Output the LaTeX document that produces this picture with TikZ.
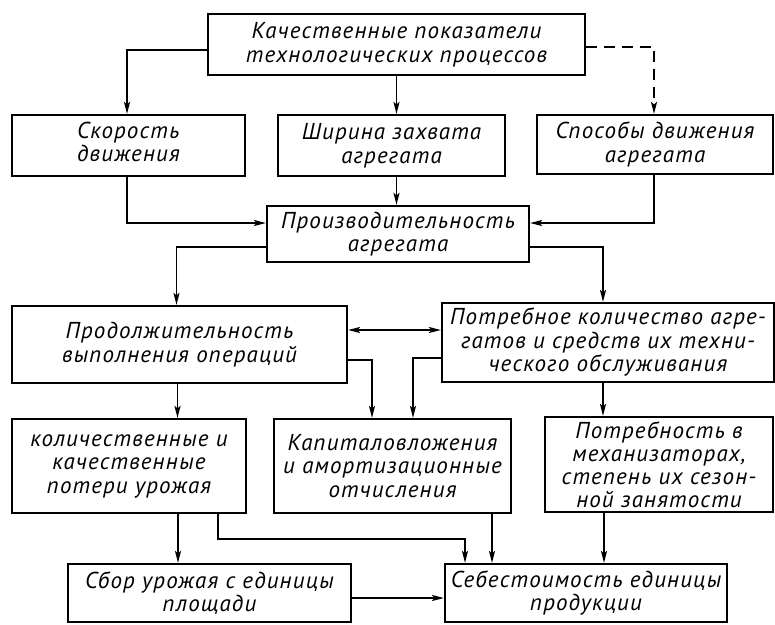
\documentclass[tikz,border=0pt]{standalone}
\usepackage{fontspec}
\newfontfamily\gostfont{PT Sans}[LetterSpace=5]
\usetikzlibrary{arrows.meta,calc}
\tikzset{
  blk/.style={draw, line width=2.2pt, inner sep=0pt, align=center,
    font=\gostfont\fontsize{23}{23.5}\selectfont\itshape},
  arr/.style={line width=1.8pt, -{Stealth[length=12pt,width=6pt,inset=2.5pt]}},
  darr/.style={line width=1.8pt, {Stealth[length=12pt,width=6pt,inset=2.5pt]}-{Stealth[length=12pt,width=6pt,inset=2.5pt]}},
  dsh/.style={arr, dash pattern=on 11pt off 7pt}
}
\begin{document}
\begin{tikzpicture}[x=1pt,y=-1pt]
\useasboundingbox (0,0) rectangle (775,624);
% boxes
\node[blk, minimum width=377pt, minimum height=61pt] (top) at (396.5,44.5) {Качественные показатели\\технологических процессов};
\node[blk, minimum width=233pt, minimum height=61pt] (skor) at (128.5,145.5) {\begin{tabular}{@{}l@{}}Скорость\\движения\end{tabular}};
\node[blk, minimum width=227pt, minimum height=61pt] (shir) at (391.5,145.5) {Ширина захвата\\агрегата};
\node[blk, minimum width=236pt, minimum height=59pt] (spos) at (655,144.5) {Способы движения\\агрегата};
\node[blk, minimum width=262pt, minimum height=56pt] (proizv) at (398,234) {Производительность\\агрегата};
\node[blk, minimum width=335pt, minimum height=77pt] (prod) at (179.5,344.5) {Продолжительность\\выполнения операций};
\node[blk, minimum width=332pt, minimum height=79pt] (potr) at (608,342.5) {Потребное количество агре-\\гатов и средств их техни-\\ческого обслуживания};
\node[blk, minimum width=234pt, minimum height=94pt] (kol) at (129,466) {количественные и\\качественные\\потери урожая};
\node[blk, minimum width=237pt, minimum height=94pt] (kap) at (392.5,466) {Капиталовложения\\и амортизационные\\отчисления};
\node[blk, minimum width=228pt, minimum height=95pt, font=\gostfont\fontsize{23}{23}\selectfont\itshape] (potrm) at (659,464.5) {Потребность в\\механизаторах,\\степень их сезон-\\ной занятости};
\node[blk, minimum width=283pt, minimum height=58pt] (sbor) at (209.5,593) {Сбор урожая с единицы\\площади};
\node[blk, minimum width=282pt, minimum height=58pt] (seb) at (586,593) {Себестоимость единицы\\продукции};
% connectors
\draw[arr] ([yshift=-5.5pt]top.west) -| ([xshift=-1.5pt]skor.north);
\draw[arr] (top.south) -- (top.south |- shir.north);
\draw[dsh] ([yshift=-2.5pt]top.east) -| ([xshift=-1pt]spos.north);
\draw[arr] ([xshift=-1.5pt]skor.south) |- ([yshift=11pt]proizv.west);
\draw[arr] (shir.south -| top.south) -- (top.south |- proizv.north);
\draw[arr] ([xshift=-1pt]spos.south) |- ([yshift=11pt]proizv.east);
\draw[arr] ([yshift=-13pt]proizv.west) -| ([xshift=-3pt]prod.north);
\draw[arr] ([yshift=-13pt]proizv.east) -| ([xshift=-5pt]potr.north);
\draw[darr] ([yshift=14.5pt]prod.east) -- ([yshift=14.5pt]prod.east -| potr.west);
\draw[arr] ([yshift=-15.5pt]prod.east) -| ([xshift=-20.5pt]kap.north);
\draw[arr] ([yshift=-15.5pt]potr.west) -| ([xshift=20.5pt]kap.north);
\draw[arr] ([xshift=-2pt]prod.south) -- ([xshift=-2pt]prod.south |- kol.north);
\draw[arr] ([xshift=-5pt]potr.south) -- ([xshift=-5pt]potr.south |- potrm.north);
\draw[arr] ([xshift=49pt]kol.south) -- ([xshift=49pt]kol.south |- sbor.north);
\draw[arr] ([xshift=89pt]kol.south) |- ([xshift=-121pt,yshift=24pt]seb.north) -- ([xshift=-121pt]seb.north);
\draw[arr] ([xshift=-94pt]seb.north |- kap.south) -- ([xshift=-94pt]seb.north);
\draw[arr] ([xshift=18pt]seb.north |- potrm.south) -- ([xshift=18pt]seb.north);
\draw[arr] ([yshift=-5pt]sbor.east) -- ([yshift=-5pt]sbor.east -| seb.west);
\end{tikzpicture}
\end{document}
